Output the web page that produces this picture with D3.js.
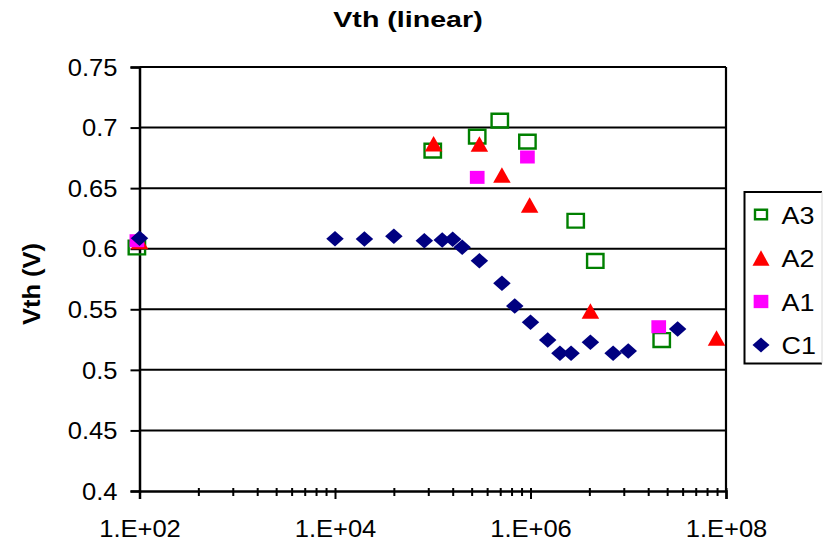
<!DOCTYPE html>
<html>
<head>
<meta charset="utf-8">
<script src="https://cdn.jsdelivr.net/npm/d3@7"></script>
<style>
  html, body { margin: 0; padding: 0; background: #fff; }
  svg { display: block; font-family: "Liberation Sans", Arial, sans-serif; }
</style>
</head>
<body>
<svg id="chart" width="831" height="541"></svg>
<script>
// Threshold voltage (linear) vs. stress count, four series
const a3X = [94, 1.0e5, 2.85e5, 4.85e5, 9.3e5, 2.9e6, 4.6e6, 2.2e7];
const a3Y = [0.601, 0.681, 0.6925, 0.7057, 0.6884, 0.6231, 0.5899, 0.5246];

const a2X = [100, 1.02e5, 3.0e5, 5.1e5, 9.8e5, 4.1e6, 8.0e7];
const a2Y = [0.606, 0.6867, 0.6864, 0.6608, 0.6361, 0.5486, 0.5263];

const a1X = [94, 2.85e5, 9.3e5, 2.05e7];
const a1Y = [0.6066, 0.6589, 0.6757, 0.5356];

const c1X = [100, 1.0e4, 2.0e4, 4.0e4, 8.2e4, 1.25e5, 1.6e5, 2.0e5, 3.0e5, 5.1e5,
             6.9e5, 1.0e6, 1.5e6, 2.0e6, 2.6e6, 4.1e6, 7.0e6, 1.0e7, 3.2e7];
const c1Y = [0.6086, 0.6083, 0.608, 0.6103, 0.6066, 0.6072, 0.6078, 0.6012, 0.590, 0.5714,
             0.5527, 0.5393, 0.5246, 0.5137, 0.5137, 0.5227, 0.5137, 0.5156, 0.5337];

const seriesNames = ["A3", "A2", "A1", "C1"];

const yTickValues = [0.4, 0.45, 0.5, 0.55, 0.6, 0.65, 0.7, 0.75];
const yTickLabels = ["0.4", "0.45", "0.5", "0.55", "0.6", "0.65", "0.7", "0.75"];
const xTickValues = [1e2, 1e4, 1e6, 1e8];
const xTickLabels = ["1.E+02", "1.E+04", "1.E+06", "1.E+08"];

const titleText = "Vth (linear)";
const yAxisTitle = "Vth (V)";

// ---------------------------------------------------------------
(function () {
const svg = d3.select("#chart");
const FONT = 23;
const WIDEN = 1.11;   // glyphs are drawn a little wider than the font's natural width

const plotLeft = 139.5, plotRight = 726, plotTop = 67, plotBottom = 491;

const x = d3.scaleLog().domain([1e2, 1e8]).range([plotLeft, plotRight]);
const y = d3.scaleLinear().domain([0.4, 0.75]).range([plotBottom, plotTop]);

function widen(sel, k) {
  sel.each(function () {
    const len = this.getComputedTextLength();
    d3.select(this).attr("textLength", len * k).attr("lengthAdjust", "spacingAndGlyphs");
  });
}

// horizontal gridlines
svg.append("g")
  .selectAll("line")
  .data(yTickValues.slice(1))
  .join("line")
  .attr("x1", plotLeft).attr("x2", plotRight)
  .attr("y1", d => y(d)).attr("y2", d => y(d))
  .attr("stroke", "#000").attr("stroke-width", 2);

// plot area right border
svg.append("line")
  .attr("x1", plotRight).attr("x2", plotRight).attr("y1", plotTop).attr("y2", plotBottom)
  .attr("stroke", "#000").attr("stroke-width", 2.2);

// Y axis
const yAxis = svg.append("g")
  .attr("transform", `translate(${plotLeft},0)`)
  .call(d3.axisLeft(y).tickValues(yTickValues).tickSize(9).tickPadding(13)
    .tickFormat((d, i) => yTickLabels[i]));
yAxis.attr("font-family", null).attr("font-size", null);
yAxis.select(".domain").attr("stroke-width", 2.5);
yAxis.selectAll(".tick line").attr("stroke-width", 2);
yAxis.selectAll(".tick text")
  .attr("font-size", FONT).attr("fill", "#000")
  .attr("dy", "0.36em");
widen(yAxis.selectAll(".tick text"), WIDEN);

// X axis: minor ticks at k^2 steps inside each two-decade interval
const minorTicks = [];
[1e2, 1e4, 1e6].forEach(m => {
  for (let k = 2; k <= 9; k++) minorTicks.push(m * k * k);
});

const xMinor = svg.append("g")
  .attr("transform", `translate(0,${plotBottom})`)
  .call(d3.axisBottom(x).tickValues(minorTicks).tickSize(5).tickFormat(""));
xMinor.select(".domain").remove();
xMinor.selectAll(".tick line").attr("y1", -3).attr("stroke-width", 2);

const xAxis = svg.append("g")
  .attr("transform", `translate(0,${plotBottom})`)
  .call(d3.axisBottom(x).tickValues(xTickValues).tickSize(8)
    .tickFormat((d, i) => xTickLabels[i]));
xAxis.attr("font-family", null).attr("font-size", null);
xAxis.select(".domain").attr("stroke-width", 2.5);
xAxis.selectAll(".tick line").attr("y1", -3).attr("stroke-width", 2);
xAxis.selectAll(".tick text")
  .attr("font-size", FONT).attr("fill", "#000")
  .attr("y", 46).attr("dy", 0);
widen(xAxis.selectAll(".tick text"), WIDEN);

// marker shapes (w,h = outer box)
function squarePath(w, h) {
  return `M${-w / 2},${-h / 2}h${w}v${h}h${-w}Z`;
}
function trianglePath(w, h) {
  return `M0,${-h / 2}L${w / 2},${h / 2}L${-w / 2},${h / 2}Z`;
}
function diamondPath(w, h) {
  return `M0,${-h / 2}L${w / 2},0L0,${h / 2}L${-w / 2},0Z`;
}

const seriesDefs = [
  { name: seriesNames[0], xs: a3X, ys: a3Y, path: squarePath(16.4, 13.8), fill: "none", stroke: "#008000", sw: 2.4,
    legendPath: squarePath(12, 9.5) },
  { name: seriesNames[1], xs: a2X, ys: a2Y, path: trianglePath(17.5, 15.5), fill: "#ff0000", stroke: "none", sw: 0,
    legendPath: trianglePath(17, 15.5) },
  { name: seriesNames[2], xs: a1X, ys: a1Y, path: squarePath(14.7, 13), fill: "#ff00ff", stroke: "none", sw: 0,
    legendPath: squarePath(14.7, 13.3) },
  { name: seriesNames[3], xs: c1X, ys: c1Y, path: diamondPath(17.5, 15.5), fill: "#000080", stroke: "none", sw: 0,
    legendPath: diamondPath(17, 15) }
];

seriesDefs.forEach(s => {
  const pts = s.xs.map((v, i) => [v, s.ys[i]]);
  svg.append("g")
    .selectAll("path")
    .data(pts)
    .join("path")
    .attr("transform", d => `translate(${x(d[0])},${y(d[1])})`)
    .attr("d", s.path)
    .attr("fill", s.fill)
    .attr("stroke", s.stroke)
    .attr("stroke-width", s.sw);
});

// title
const title = svg.append("text")
  .attr("x", 408).attr("y", 26.7)
  .attr("text-anchor", "middle")
  .attr("font-size", 22).attr("font-weight", "bold")
  .text(titleText);
widen(title, 1.3);

// y axis title
const yTitle = svg.append("text")
  .attr("transform", "translate(39.5,284) rotate(-90)")
  .attr("text-anchor", "middle")
  .attr("font-size", FONT).attr("font-weight", "bold")
  .text(yAxisTitle);
widen(yTitle, 1.11);

// legend
const lg = svg.append("g");
const lgLeft = 744.5, lgTop = 192, lgBottom = 363.5, lgRight = 822;
lg.append("path")
  .attr("d", `M${lgRight},${lgTop}H${lgLeft}V${lgBottom}H${lgRight}`)
  .attr("fill", "none").attr("stroke", "#000").attr("stroke-width", 2);
lg.append("line")
  .attr("x1", lgRight).attr("x2", lgRight).attr("y1", lgTop).attr("y2", lgBottom)
  .attr("stroke", "#d8d8d8").attr("stroke-width", 1);

const rowY = d3.scaleLinear().domain([0, 3]).range([214.5, 345]);
seriesDefs.forEach((s, i) => {
  const cy = rowY(i);
  lg.append("path")
    .attr("transform", `translate(761,${cy})`)
    .attr("d", s.legendPath)
    .attr("fill", s.fill)
    .attr("stroke", s.stroke)
    .attr("stroke-width", s.sw);
  const t = lg.append("text")
    .attr("x", 781.5).attr("y", cy + 9)
    .attr("font-size", FONT)
    .text(s.name);
  widen(t, 1.17);
});
})();
</script>
</body>
</html>
